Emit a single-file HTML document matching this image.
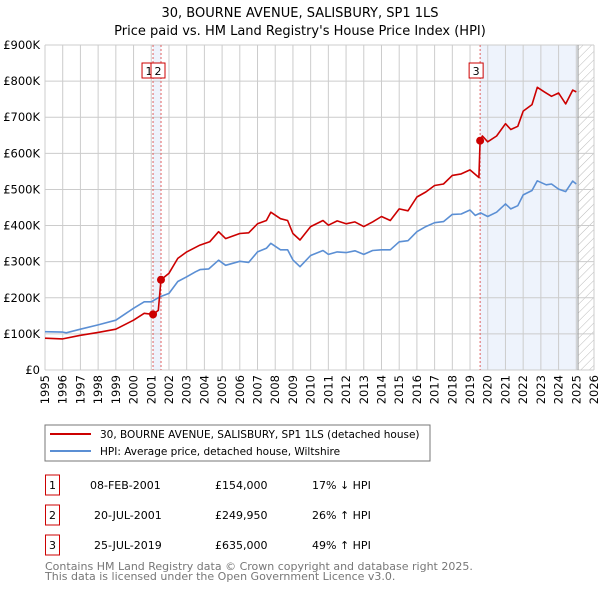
<!DOCTYPE html>
<html><head><meta charset="utf-8"><style>
body{margin:0;background:#fff;font-family:"DejaVu Sans","Liberation Sans",sans-serif;}
svg{display:block}
</style></head><body>
<svg id="chart" width="600" height="590" viewBox="0 0 600 590" xmlns="http://www.w3.org/2000/svg" font-family="DejaVu Sans, Liberation Sans, sans-serif">
<defs>
<pattern id="hatch" width="6" height="6" patternUnits="userSpaceOnUse" patternTransform="rotate(45)">
<line x1="0" y1="0" x2="0" y2="6" stroke="#bbb" stroke-width="1"/>
</pattern>
</defs>
<text x="300" y="17" text-anchor="middle" font-size="13" fill="#000">30, BOURNE AVENUE, SALISBURY, SP1 1LS</text>
<text x="300" y="35" text-anchor="middle" font-size="13" fill="#000">Price paid vs. HM Land Registry's House Price Index (HPI)</text>
<g id="bg"></g>
<g id="grid"></g>
<g id="series"></g>
<g id="axes"></g>
<g id="markers"></g>

<rect x="45" y="425" width="385" height="36" fill="#fff" stroke="#777"/>
<line x1="50" y1="434" x2="91" y2="434" stroke="#cc0000" stroke-width="2"/>
<text x="100" y="438" font-size="10.5">30, BOURNE AVENUE, SALISBURY, SP1 1LS (detached house)</text>
<line x1="50" y1="451" x2="91" y2="451" stroke="#5b8fd4" stroke-width="2"/>
<text x="100" y="455" font-size="10.5">HPI: Average price, detached house, Wiltshire</text>

<g font-size="11" fill="#000">
<rect x="45.5" y="475" width="14" height="20" fill="none" stroke="#cc0000"/>
<text x="52.5" y="489" text-anchor="middle">1</text>
<text x="90" y="489">08-FEB-2001</text>
<text x="215" y="489">£154,000</text>
<text x="312" y="489">17% ↓ HPI</text>
<rect x="45.5" y="505" width="14" height="20" fill="none" stroke="#cc0000"/>
<text x="52.5" y="519" text-anchor="middle">2</text>
<text x="94" y="519">20-JUL-2001</text>
<text x="215" y="519">£249,950</text>
<text x="312" y="519">26% ↑ HPI</text>
<rect x="45.5" y="535" width="14" height="20" fill="none" stroke="#cc0000"/>
<text x="52.5" y="549" text-anchor="middle">3</text>
<text x="94" y="549">25-JUL-2019</text>
<text x="215" y="549">£635,000</text>
<text x="312" y="549">49% ↑ HPI</text>
</g>
<text x="45" y="570" font-size="11" fill="#777">Contains HM Land Registry data © Crown copyright and database right 2025.</text>
<text x="45" y="580" font-size="11" fill="#777">This data is licensed under the Open Government Licence v3.0.</text>
</svg>
<script>
const yTicks=[0,100,200,300,400,500,600,700,800,900];
const yTickLabels=["£0","£100K","£200K","£300K","£400K","£500K","£600K","£700K","£800K","£900K"];
const xYears=[1995,1996,1997,1998,1999,2000,2001,2002,2003,2004,2005,2006,2007,2008,2009,2010,2011,2012,2013,2014,2015,2016,2017,2018,2019,2020,2021,2022,2023,2024,2025,2026];
const hpiDates=[1995,1996,1996.2,1997,1998,1999,2000,2000.6,2001,2001.5,2002,2002.5,2003,2003.5,2003.75,2004.25,2004.8,2005.2,2006,2006.5,2007,2007.5,2007.75,2008.3,2008.7,2009,2009.4,2010,2010.7,2011,2011.5,2012,2012.5,2013,2013.5,2014,2014.5,2015,2015.5,2016,2016.5,2017,2017.5,2018,2018.5,2019,2019.3,2019.6,2020,2020.5,2021,2021.3,2021.7,2022,2022.5,2022.8,2023.3,2023.6,2024,2024.4,2024.8,2025];
const hpiValues=[106,105,103,113,125,138,171,189,189,203,212,245,258,272,278,280,304,290,301,298,327,337,351,333,333,305,286,317,331,320,327,325,330,320,331,333,333,355,358,383,397,408,411,431,432,443,428,435,425,437,460,446,455,485,497,524,513,515,501,494,523,515];
const propDates=[1995,1996,1997,1998,1999,2000,2000.6,2001.1,2001.4,2001.55,2002,2002.5,2003,2003.75,2004.3,2004.8,2005.2,2006,2006.5,2007,2007.5,2007.75,2008.3,2008.7,2009,2009.4,2010,2010.7,2011,2011.5,2012,2012.5,2013,2013.5,2014,2014.5,2015,2015.5,2016,2016.5,2017,2017.5,2018,2018.5,2019,2019.5,2019.57,2019.7,2020,2020.5,2021,2021.3,2021.7,2022,2022.5,2022.8,2023.2,2023.6,2024,2024.4,2024.8,2025];
const propValues=[88,86,96,104,113,138,157,154,165,250,268,309,327,346,355,383,364,378,380,405,414,437,419,414,378,360,397,414,401,413,405,410,397,410,425,414,446,441,479,493,511,515,539,543,554,533,635,648,632,648,682,666,675,717,735,783,770,758,767,737,775,770];
const saleDates=[2001.1,2001.55,2019.57];
const salePrices=[154,249.95,635];
const saleLabels=["1","2","3"];

const X0=45,X1=594,Y0=370,Y1=45;
const xs=y=>X0+(y-1995)/(2026-1995)*(X1-X0);
const ys=v=>Y0-v/900*(Y0-Y1);
const NS="http://www.w3.org/2000/svg";
function mk(tag,attrs,parent,text){const e=document.createElementNS(NS,tag);for(const k in attrs)e.setAttribute(k,attrs[k]);if(text!==undefined)e.textContent=text;parent.appendChild(e);return e;}
const bg=document.getElementById('bg'),grid=document.getElementById('grid'),ser=document.getElementById('series'),axes=document.getElementById('axes'),mks=document.getElementById('markers');

let r=mk('rect',{x:xs(saleDates[0]),y:Y1,width:xs(saleDates[1])-xs(saleDates[0]),height:Y0-Y1,fill:'#eef3fc'},bg);


r=mk('rect',{x:xs(saleDates[2]),y:Y1,width:xs(2025.1)-xs(saleDates[2]),height:Y0-Y1,fill:'#eef3fc'},bg);


r=mk('rect',{x:xs(2025.1),y:Y1,width:X1-xs(2025.1),height:Y0-Y1,fill:'url(#hatch)'},bg);



yTicks.forEach((t,i)=>{
  const l=mk('line',{x1:X0,x2:X1,y1:ys(t),y2:ys(t),stroke:'#ccc','stroke-width':1},grid);
  
  
  const tx=mk('text',{x:40,y:ys(t)+4,'text-anchor':'end','font-size':11.5},axes,yTickLabels[i]);
  
  
});
xYears.forEach(yr=>{
  const l=mk('line',{x1:xs(yr),x2:xs(yr),y1:Y1,y2:Y0,stroke:'#ccc','stroke-width':1},grid);
  
  
  const tx=mk('text',{x:0,y:0,'text-anchor':'end','font-size':11.5,transform:`translate(${xs(yr)+4},375) rotate(-90)`},axes,String(yr));
  
  
});
let vl=mk('line',{x1:xs(2025.1),x2:xs(2025.1),y1:Y1,y2:Y0,stroke:'#999','stroke-width':1},grid);



saleDates.forEach((d,i)=>{
  const l=mk('line',{x1:xs(d),x2:xs(d),y1:Y1,y2:Y0,stroke:'#e06060','stroke-width':1,'stroke-dasharray':'2,2'},grid);
  
  
});

function pts(d,v){return d.map((x,i)=>xs(x).toFixed(1)+','+ys(v[i]).toFixed(1)).join(' ');}
const hp=mk('polyline',{points:pts(hpiDates,hpiValues),fill:'none',stroke:'#5b8fd4','stroke-width':1.6,'stroke-linejoin':'round'},ser);


const pp=mk('polyline',{points:pts(propDates,propValues),fill:'none',stroke:'#cc0000','stroke-width':1.6,'stroke-linejoin':'round'},ser);



saleDates.forEach((d,i)=>{
  const c=mk('circle',{cx:xs(d),cy:ys(salePrices[i]),r:4,fill:'#cc0000'},mks);
  
  
});
const badgeX=[xs(saleDates[0])-4,xs(saleDates[1])-3,xs(saleDates[2])-4];
saleLabels.forEach((s,i)=>{
  const g=mk('g',{},mks);
  
  
  mk('rect',{x:badgeX[i]-7,y:63,width:14,height:15,fill:'#fff',stroke:'#cc0000'},g);
  mk('text',{x:badgeX[i],y:75,'text-anchor':'middle','font-size':11},g,s);
});
</script>
</body></html>
